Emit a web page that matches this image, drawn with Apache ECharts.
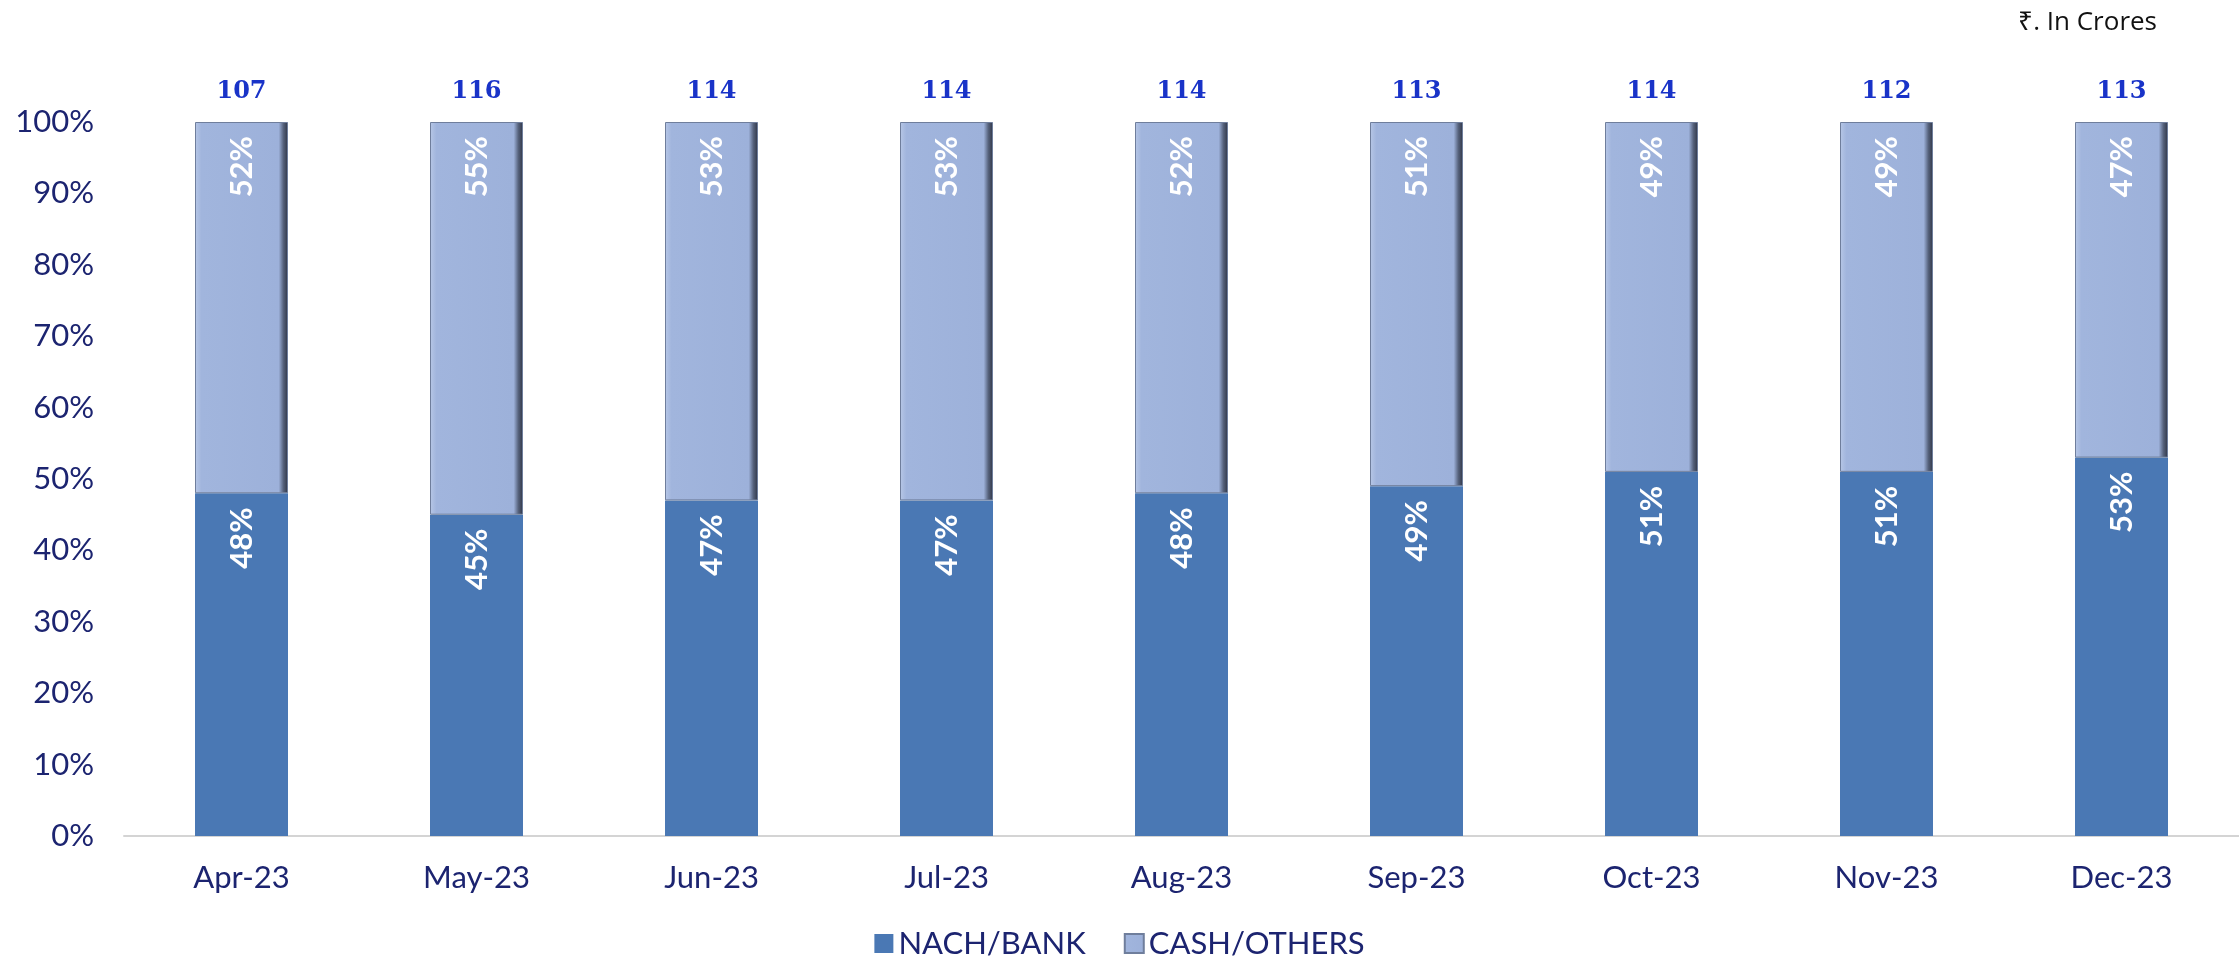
<!DOCTYPE html>
<html>
<head>
<meta charset="utf-8">
<script src="https://cdn.jsdelivr.net/npm/echarts@6/dist/echarts.min.js"></script>
<style>
  html, body { margin: 0; padding: 0; background: #fff; }
  #main { width: 2239px; height: 968px; }
</style>
</head>
<body>
<div id="main"></div>
<script>
// months on the x axis
const months = ['Apr-23', 'May-23', 'Jun-23', 'Jul-23', 'Aug-23', 'Sep-23', 'Oct-23', 'Nov-23', 'Dec-23']
// share of collections, percent
const nachBank = [48, 45, 47, 47, 48, 49, 51, 51, 53]
const cashOthers = [52, 55, 53, 53, 52, 51, 49, 49, 47]
// total collections, Rs crores
const totals = [107, 116, 114, 114, 114, 113, 114, 112, 113]

const navy = '#1c2470'

// rotated label hanging from the top of each segment
const insideLabel = {
  show: true,
  position: 'insideTop',
  distance: 14,
  rotate: 90,
  align: 'right',
  verticalAlign: 'middle',
  color: '#fff',
  fontFamily: 'Lato',
  fontWeight: 'bold',
  fontSize: 31,
  formatter: p => p.value + '%'
}

const chart = echarts.init(document.getElementById('main'))
chart.setOption({
  animation: false,
  graphic: [{
    type: 'text',
    right: 82,
    top: 10,
    style: {
      text: '₹. In Crores',
      fill: '#111',
      font: '26px "Open Sans"'
    }
  }],
  grid: {
    left: 124,
    right: 0,
    top: 122,
    bottom: 132
  },
  legend: {
    bottom: 4,
    left: 'center',
    itemWidth: 19,
    itemHeight: 19,
    itemGap: 38,
    icon: 'rect',
    textStyle: { color: navy, fontFamily: 'Lato', fontSize: 31 },
    data: ['NACH/BANK', 'CASH/OTHERS']
  },
  xAxis: {
    type: 'category',
    data: months,
    axisLine: { lineStyle: { color: '#d4d4d4', width: 2 } },
    axisTick: { show: false },
    axisLabel: { color: navy, fontFamily: 'Lato', fontSize: 31, margin: 26 }
  },
  yAxis: {
    type: 'value',
    min: 0,
    max: 100,
    interval: 10,
    splitLine: { show: false },
    axisLine: { show: false },
    axisTick: { show: false },
    axisLabel: {
      color: navy,
      fontFamily: 'Lato',
      fontSize: 31,
      margin: 30,
      formatter: v => v + '%'
    }
  },
  series: [
    {
      name: 'NACH/BANK',
      type: 'bar',
      stack: 'total',
      barWidth: 93,
      data: nachBank,
      itemStyle: { color: '#4a78b4' },
      label: insideLabel
    },
    {
      name: 'CASH/OTHERS',
      type: 'bar',
      stack: 'total',
      barWidth: 93,
      data: cashOthers,
      itemStyle: {
        color: {
          type: 'linear', x: 0, y: 0, x2: 1, y2: 0,
          colorStops: [
            { offset: 0, color: '#b7c7e6' },
            { offset: 0.07, color: '#a1b5dd' },
            { offset: 0.9, color: '#9db1da' },
            { offset: 0.95, color: '#56627c' },
            { offset: 1, color: '#2e3444' }
          ]
        },
        borderColor: '#6f7e9c',
        borderWidth: 1
      },
      label: insideLabel
    },
    {
      // invisible helper series that carries the totals above each bar
      name: 'total',
      type: 'bar',
      stack: 'total',
      barWidth: 93,
      data: months.map(() => 0),
      itemStyle: { color: 'transparent' },
      label: {
        show: true,
        position: 'top',
        distance: 18,
        color: '#1933c8',
        fontFamily: 'DejaVu Serif',
        fontWeight: 'bold',
        fontSize: 24,
        formatter: p => totals[p.dataIndex]
      }
    }
  ]
})
</script>
</body>
</html>
